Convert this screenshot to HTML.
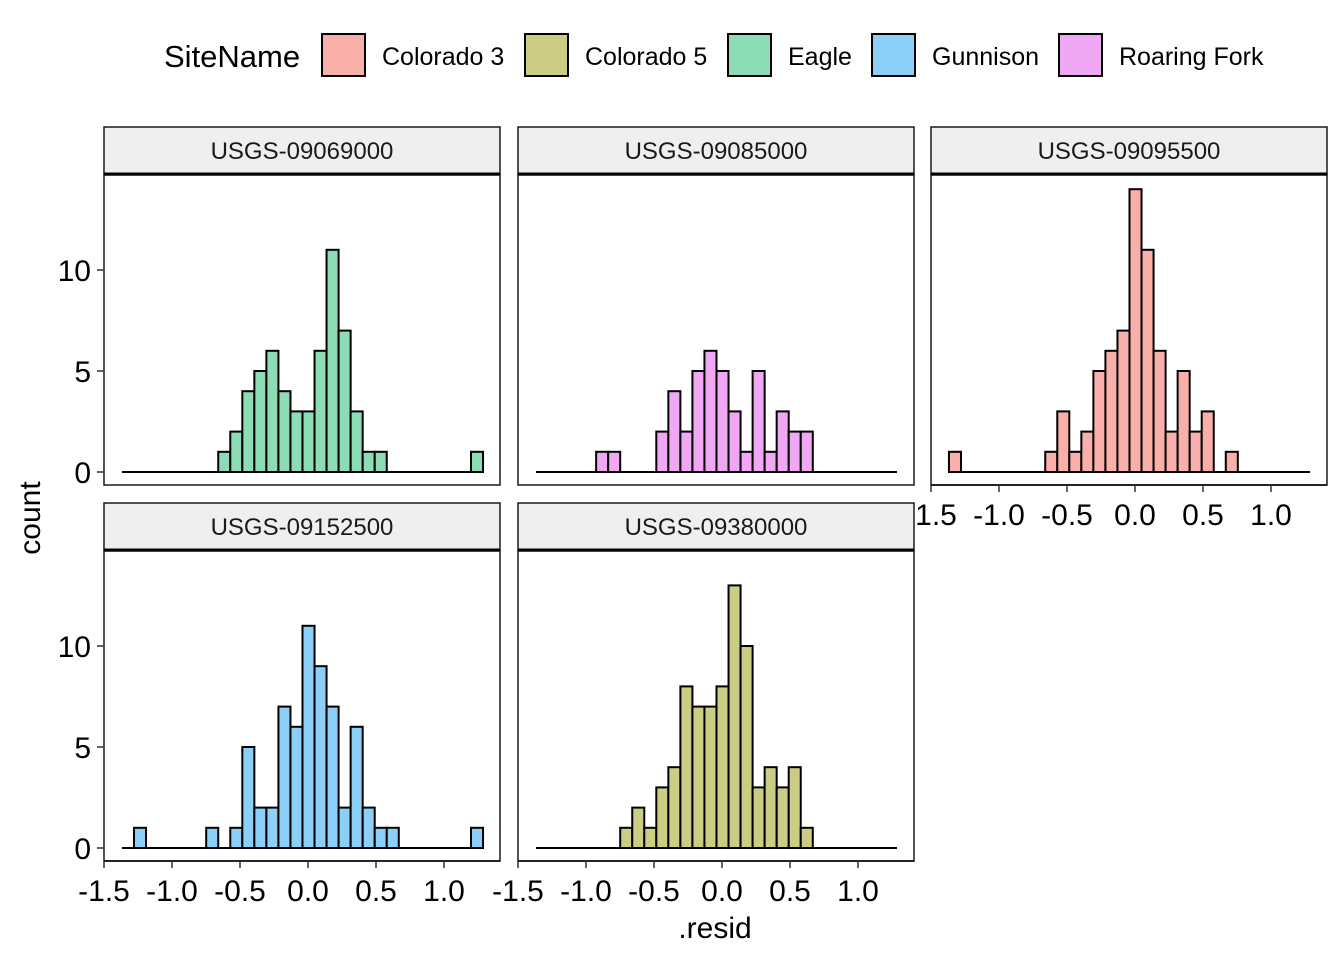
<!DOCTYPE html>
<html><head><meta charset="utf-8"><style>
body{margin:0;background:#fff;}
svg{display:block;font-family:"Liberation Sans",Arial,sans-serif;}
</style></head><body>
<svg id="chart" width="1344" height="960"></svg>
<script>
const binStart = -1.368;
const binWidth = 0.0885;
const siteNames = ["Colorado 3","Colorado 5","Eagle","Gunnison","Roaring Fork"];
const siteColors = ["#f9b0ab","#cbcd85","#8cdcb5","#8cd0f8","#f0a8f4"];
const panelTitles = ["USGS-09069000","USGS-09085000","USGS-09095500","USGS-09152500","USGS-09380000"];
const panelSite = [2,4,0,3,1];
const counts09069000 = [0,0,0,0,0,0,0,0,1,2,4,5,6,4,3,3,6,11,7,3,1,1,0,0,0,0,0,0,0,1];
const counts09085000 = [0,0,0,0,0,1,1,0,0,0,2,4,2,5,6,5,3,1,5,1,3,2,2,0,0,0,0,0,0,0];
const counts09095500 = [1,0,0,0,0,0,0,0,1,3,1,2,5,6,7,14,11,6,2,5,2,3,0,1,0,0,0,0,0,0];
const counts09152500 = [0,1,0,0,0,0,0,1,0,1,5,2,2,7,6,11,9,7,2,6,2,1,1,0,0,0,0,0,0,1];
const counts09380000 = [0,0,0,0,0,0,0,1,2,1,3,4,8,7,7,8,13,10,3,4,3,4,1,0,0,0,0,0,0,0];
const allCounts = [counts09069000,counts09085000,counts09095500,counts09152500,counts09380000];
const xTicks = [-1.5,-1.0,-0.5,0.0,0.5,1.0];
const xTickLabels = ["-1.5","-1.0","-0.5","0.0","0.5","1.0"];
const yTicks = [0,5,10];

const NS="http://www.w3.org/2000/svg";
const svg=document.getElementById('chart');
function mk(tag,attrs,parent){const e=document.createElementNS(NS,tag);for(const k in attrs)e.setAttribute(k,attrs[k]);(parent||svg).appendChild(e);return e;}
function txt(s,attrs,parent){const e=mk('text',attrs,parent);e.textContent=s;return e;}

const panels=[{x:104,y:175},{x:518,y:175},{x:931,y:175},{x:104,y:551},{x:518,y:551}];
const PW=396, PH=310, UNIT=20.2, ZEROOFF=297;

panels.forEach((p,i)=>{
  const g=mk('g',{});
  
  
  const xS=v=>p.x+204+v*136;
  const yS=c=>p.y+ZEROOFF-c*UNIT;
  const st=mk('rect',{x:p.x,y:p.y-48,width:PW,height:47,fill:'#efefef',stroke:'#1a1a1a','stroke-width':1.5},g);
  
  
  const stt=txt(panelTitles[i],{x:p.x+PW/2,y:p.y-16,'text-anchor':'middle','font-size':24,fill:'#1a1a1a'},g);
  
  
  mk('rect',{x:p.x,y:p.y,width:PW,height:PH,fill:'#fff',stroke:'#1a1a1a','stroke-width':1.5},g);
  mk('line',{x1:p.x,x2:p.x+PW,y1:p.y-1,y2:p.y-1,stroke:'#000','stroke-width':3},g);
  const cs=allCounts[i], col=siteColors[panelSite[i]];
  const bl=mk('line',{x1:xS(binStart),x2:xS(binStart+cs.length*binWidth),y1:yS(0),y2:yS(0),stroke:'#000','stroke-width':2},g);
  
  
  cs.forEach((c,b)=>{
    if(c<=0) return;
    const x0=xS(binStart+b*binWidth), x1=xS(binStart+(b+1)*binWidth);
    const r=mk('rect',{x:x0,y:yS(c),width:x1-x0,height:yS(0)-yS(c),fill:col,stroke:'#000','stroke-width':2},g);
    
    
  });
  if(p.x===104){
    yTicks.forEach(t=>{
      mk('line',{x1:p.x-7,x2:p.x,y1:yS(t),y2:yS(t),stroke:'#333','stroke-width':1.5},g);
      const l=txt(String(t),{x:p.x-13,y:yS(t)+11,'text-anchor':'end','font-size':30,fill:'#000'},g);
      
      
    });
  }
  if(i>=2){
    const by=p.y+PH;
    mk('line',{x1:p.x,x2:p.x+PW,y1:by,y2:by,stroke:'#000','stroke-width':1.5},g);
    xTicks.forEach((t,k)=>{
      mk('line',{x1:xS(t),x2:xS(t),y1:by,y2:by+7,stroke:'#333','stroke-width':1.5},g);
      const l=txt(xTickLabels[k],{x:xS(t),y:by+40,'text-anchor':'middle','font-size':30,fill:'#000'},g);
      
      
    });
  }
});

const yt=txt('count',{x:40,y:518,'text-anchor':'middle','font-size':30,fill:'#000',transform:'rotate(-90 40 518)'});


const xt=txt('.resid',{x:715,y:938,'text-anchor':'middle','font-size':30,fill:'#000'});



const lg=mk('g',{});


const lt=txt('SiteName',{x:164,y:67,'font-size':31,fill:'#000'},lg);


const keyX=[322,525,728,872,1059];
siteNames.forEach((n,k)=>{
  const e=mk('g',{},lg);
  
  
  mk('rect',{x:keyX[k],y:34,width:43,height:42,fill:siteColors[k],stroke:'#000','stroke-width':2},e);
  txt(n,{x:keyX[k]+60,y:65,'font-size':25,fill:'#000'},e);
});
</script>
</body></html>
